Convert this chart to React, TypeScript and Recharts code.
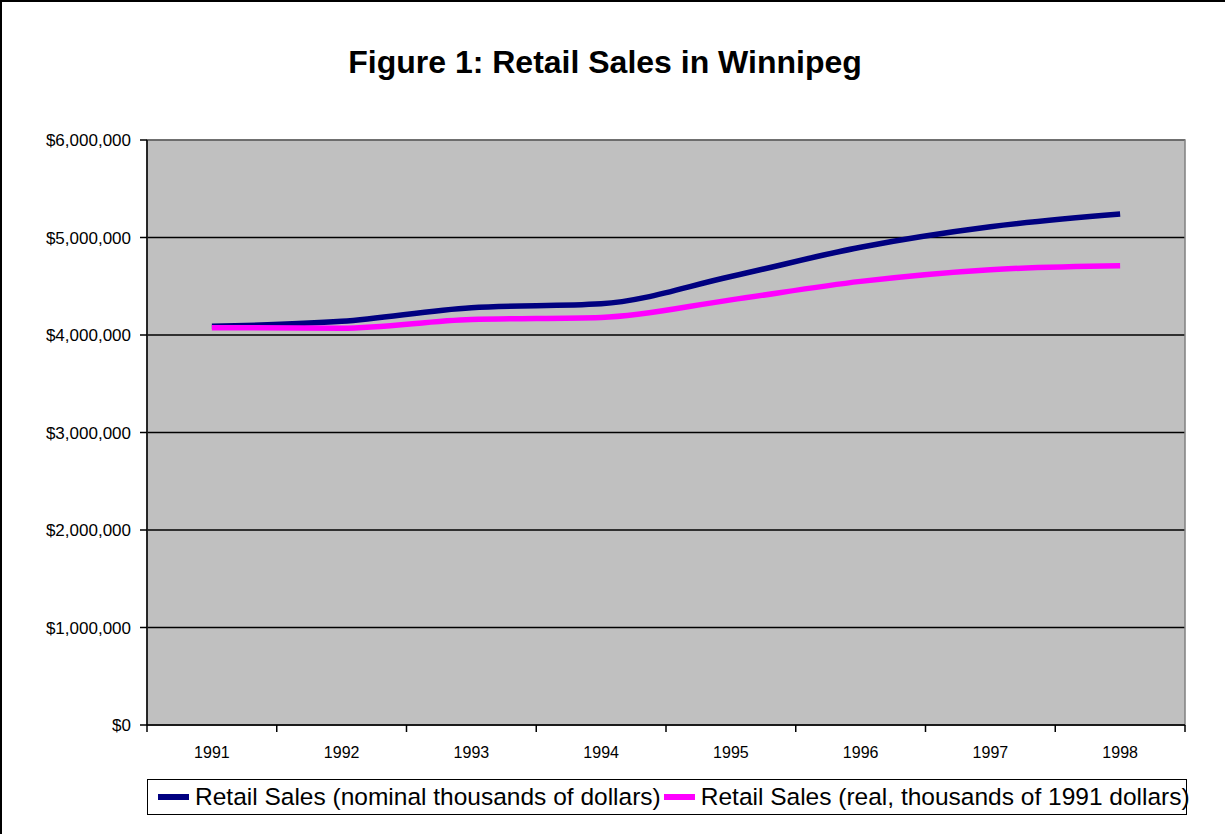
import { LineChart, Line, XAxis, YAxis, CartesianGrid, Legend, ReferenceArea } from 'recharts';

const years = [1991, 1992, 1993, 1994, 1995, 1996, 1997, 1998];
const nominalSales = [4090000, 4140000, 4280000, 4320000, 4600000, 4900000, 5110000, 5240000];
const realSales = [4075000, 4070000, 4160000, 4180000, 4360000, 4550000, 4670000, 4710000];
const yTicks = [0, 1000000, 2000000, 3000000, 4000000, 5000000, 6000000];
// year labels sit in the middle of each slot, tick marks on the slot boundaries
const yearTicks = [1990.5, 1991, 1991.5, 1992, 1992.5, 1993, 1993.5, 1994, 1994.5, 1995, 1995.5, 1996, 1996.5, 1997, 1997.5, 1998, 1998.5];

const FONT = '"Liberation Sans", Arial, sans-serif';

const data = years.map((year, i) => ({
  year,
  nominal: nominalSales[i],
  real: realSales[i],
}));

const fmtDollars = (v: number) => '$' + v.toLocaleString('en-US');

const YearTick = (props: any) => {
  const { x, y, payload } = props;
  const v = payload.value as number;
  if (Number.isInteger(v)) {
    return (
      <text x={x} y={y + 33} textAnchor="middle" fontSize={16} fontFamily={FONT} fill="#000">
        {v}
      </text>
    );
  }
  return <line x1={x} y1={y} x2={x} y2={y + 7} stroke="#000" strokeWidth={1.5} />;
};

const series = [
  { name: 'Retail Sales (nominal thousands of dollars)', color: '#000080' },
  { name: 'Retail Sales (real, thousands of 1991 dollars)', color: '#FF00FF' },
];

const LegendBox = () => (
  <div
    style={{
      boxSizing: 'border-box',
      width: 1040,
      height: 36,
      border: '1px solid #000',
      background: '#fff',
      display: 'flex',
      alignItems: 'center',
      paddingLeft: 10,
      fontFamily: FONT,
      fontSize: 24.5,
      color: '#000',
      whiteSpace: 'nowrap',
    }}
  >
    {series.map((s, i) => (
      <div key={s.name} style={{ display: 'flex', alignItems: 'center', marginLeft: i === 0 ? 0 : 3 }}>
        <span style={{ display: 'inline-block', width: 31, height: 6, background: s.color, marginRight: 6 }} />
        <span>{s.name}</span>
      </div>
    ))}
  </div>
);

export default function App() {
  return (
    <div
      style={{
        position: 'absolute',
        left: 0,
        top: 0,
        width: 1225,
        height: 834,
        background: '#fff',
        borderLeft: '2px solid #000',
        borderTop: '2px solid #000',
        boxSizing: 'border-box',
        overflow: 'hidden',
      }}
    >
      <div
        style={{
          position: 'absolute',
          left: 0,
          top: 42,
          width: 1206,
          textAlign: 'center',
          fontFamily: FONT,
          fontWeight: 'bold',
          fontSize: 32,
          color: '#000',
        }}
      >
        Figure 1: Retail Sales in Winnipeg
      </div>
      <div style={{ position: 'absolute', left: -2, top: -2 }}>
        <LineChart width={1225} height={834} data={data} margin={{ top: 140, right: 40, left: 0, bottom: 0 }}>
          <CartesianGrid horizontal vertical={false} stroke="#000" strokeWidth={1.5} fill="#C0C0C0" />
          <ReferenceArea x1={1990.5} x2={1998.5} y1={0} y2={6000000} fill="none" stroke="#808080" strokeWidth={1.5} />
          <XAxis
            dataKey="year"
            type="number"
            domain={[1990.5, 1998.5]}
            ticks={yearTicks}
            interval={0}
            height={109}
            tickSize={0}
            tickMargin={0}
            tickLine={false}
            tick={<YearTick />}
            axisLine={{ stroke: '#000', strokeWidth: 1.5 }}
          />
          <YAxis
            width={147}
            domain={[0, 6000000]}
            ticks={yTicks}
            interval={0}
            tickSize={7}
            tickMargin={9}
            tickFormatter={fmtDollars}
            tick={{ fill: '#000', fontSize: 17, fontFamily: FONT }}
            tickLine={{ stroke: '#000', strokeWidth: 1.5 }}
            axisLine={{ stroke: '#000', strokeWidth: 1.5 }}
          />
          <Line
            type="monotone"
            dataKey="nominal"
            name={series[0].name}
            stroke={series[0].color}
            strokeWidth={5.5}
            dot={false}
            isAnimationActive={false}
          />
          <Line
            type="monotone"
            dataKey="real"
            name={series[1].name}
            stroke={series[1].color}
            strokeWidth={5.5}
            dot={false}
            isAnimationActive={false}
          />
          <Legend
            layout="horizontal"
            verticalAlign="middle"
            align="center"
            wrapperStyle={{ left: 147, top: 779, width: 1040, height: 36 }}
            content={() => <LegendBox />}
          />
        </LineChart>
      </div>
    </div>
  );
}
